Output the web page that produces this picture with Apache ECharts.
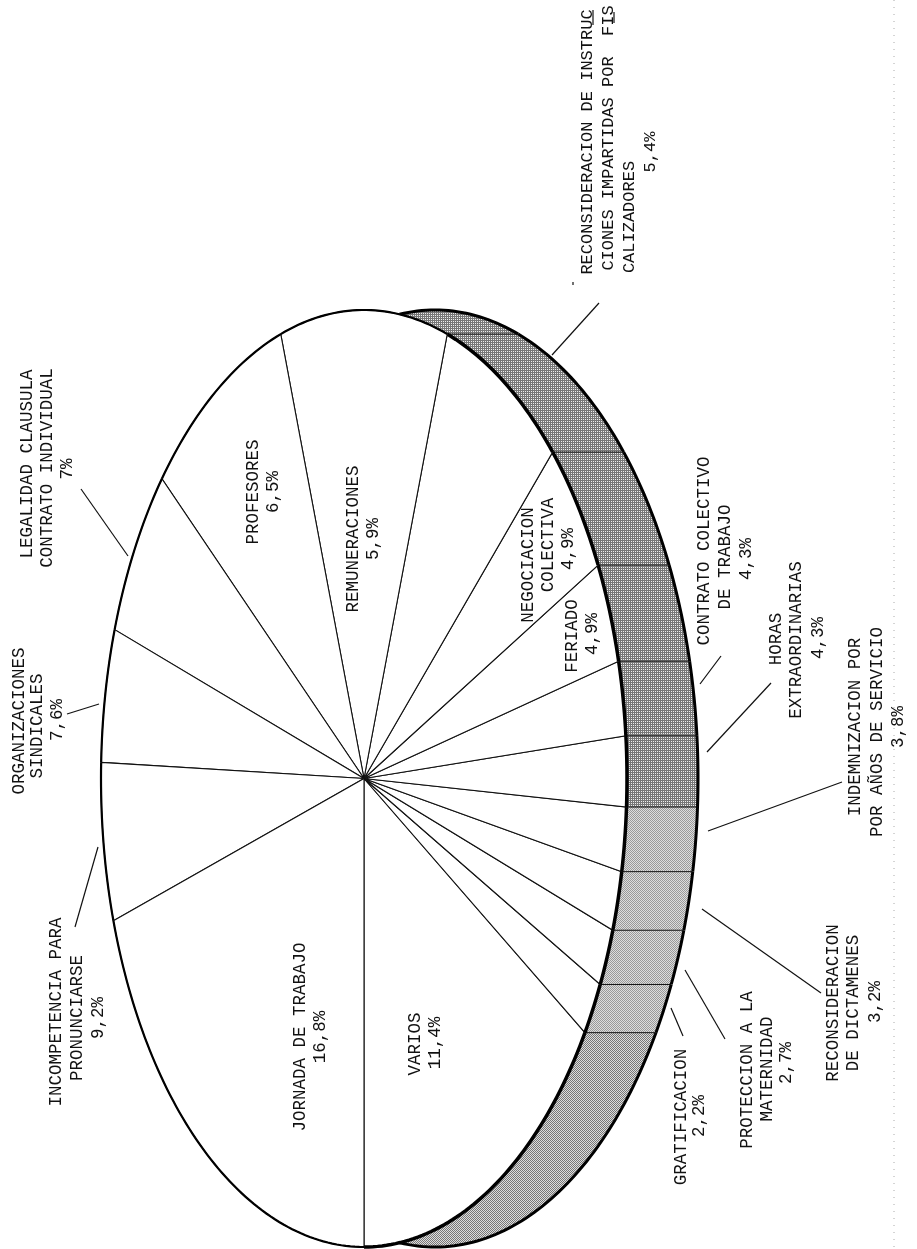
<!DOCTYPE html>
<html>

	<head>
		<meta charset="UTF-8">
		<title>dictamenes</title>
		<script src="https://cdn.jsdelivr.net/npm/echarts@6/dist/echarts.min.js"></script>
		<style>
			html, body {
				margin: 0;
				padding: 0;
				background: #fff;
			}
			#pie {
				width: 917px;
				height: 1249px;
			}
		</style>
	</head>

	<body>
		<div id="pie"></div>

		<script>
			// slices, counter-clockwise on screen, starting from straight down
			var categoryLines = [
				['VARIOS'],
				['GRATIFICACION'],
				['PROTECCION A LA', 'MATERNIDAD'],
				['RECONSIDERACION', 'DE DICTAMENES'],
				['INDEMNIZACION POR', 'POR AÑOS DE SERVICIO'],
				['HORAS', 'EXTRAORDINARIAS'],
				['CONTRATO COLECTIVO', 'DE TRABAJO'],
				['FERIADO'],
				['NEGOCIACION', 'COLECTIVA'],
				['RECONSIDERACION DE INSTRUC', 'CIONES IMPARTIDAS POR  FIS', 'CALIZADORES'],
				['REMUNERACIONES'],
				['PROFESORES'],
				['LEGALIDAD CLAUSULA', 'CONTRATO INDIVIDUAL'],
				['ORGANIZACIONES', 'SINDICALES'],
				['INCOMPETENCIA PARA', 'PRONUNCIARSE'],
				['JORNADA DE TRABAJO']
			];
			var values = [11.4, 2.2, 2.7, 3.2, 3.8, 4.3, 4.3, 4.9, 4.9, 5.4, 5.9, 6.5, 7, 7.6, 9.2, 16.8];

			// where each text line sits (name lines, then the percent)
			var labelSpots = [
				[[415, 1044], [435, 1043]],
				[[681, 1117], [699, 1116]],
				[[747, 1070], [767, 1069], [786, 1063]],
				[[833, 1003], [853, 1003], [875, 1002]],
				[[855, 727], [877, 732], [898, 727]],
				[[776, 639], [796, 640], [818, 638]],
				[[704, 551], [725, 557], [746, 559]],
				[[572, 636], [592, 634]],
				[[528, 565], [548, 545], [568, 549]],
				[[587, 142], [608, 138], [629, 217], [650, 152]],
				[[353, 539], [373, 539]],
				[[253, 492], [273, 492]],
				[[27, 464], [47, 468], [67, 469]],
				[[19, 721], [37, 726], [57, 720]],
				[[56, 1012], [77, 1018], [98, 1018]],
				[[300, 1037], [320, 1037]]
			];
			var leaders = [
				[81, 489, 128, 556],
				[67, 714, 99, 704],
				[98, 847, 75, 927],
				[599, 303, 552, 355],
				[721, 656, 700, 684],
				[771, 683, 707, 752],
				[842, 782, 708, 831],
				[702, 909, 821, 993],
				[685, 970, 725, 1039],
				[671, 1008, 683, 1036],
				[593, 10, 593, 25],
				[614, 12, 614, 23],
				[573, 282, 573, 285]
			];
			var bandTones = ['mid', 'light', 'light', 'light', 'light', 'dark', 'dark', 'dark', 'dark', 'dark', 'dark', 'dark', 'dark', 'dark', 'dark', 'dark'];

			var total = 0;
			for(var i = 0; i < values.length; i++) total += values[i];

			var rows = [];
			var cum = 0;
			for(var i = 0; i < values.length; i++) {
				rows.push([cum, values[i]]);
				cum += values[i];
			}

			// side of the disc, in axis units (the ellipse is the unit circle on the axes)
			var depth = 0.27;
			var tMin = Math.asin(depth / 2) * 180 / Math.PI;
			var tMax = 180 - tMin;

			function makePattern(size, dots, ink, bg) {
				var c = document.createElement('canvas');
				c.width = size;
				c.height = size;
				var g = c.getContext('2d');
				g.fillStyle = bg;
				g.fillRect(0, 0, size, size);
				g.fillStyle = ink;
				for(var i = 0; i < dots.length; i++) g.fillRect(dots[i][0], dots[i][1], 1, 1);
				return { image: c, repeat: 'repeat' };
			}
			var patterns = {
				dark: makePattern(2, [[0, 0], [1, 0], [0, 1]], '#777', '#eee'),
				mid: makePattern(2, [[0, 0], [1, 1]], '#777', '#ddd'),
				light: makePattern(2, [[0, 0], [1, 1]], '#999', '#ddd')
			};

			// wedges keep their true angle at the hub, only the rim is squashed
			function rimParam(share, size) {
				var th = share / total * 2 * Math.PI;
				var t = Math.atan2(Math.sin(th) / size[0], Math.cos(th) / size[1]) * 180 / Math.PI;
				if(t <= 0 && th > 0) t += 360;
				return t;
			}

			function rimPoint(api, t, shift) {
				var r = t * Math.PI / 180;
				return api.coord([Math.sin(r) + shift, -Math.cos(r)]);
			}

			function arc(api, from, to, shift) {
				var pts = [];
				var n = Math.max(2, Math.ceil(Math.abs(to - from)));
				for(var i = 0; i <= n; i++) pts.push(rimPoint(api, from + (to - from) * i / n, shift));
				return pts;
			}

			function renderWedge(params, api) {
				var size = api.size([1, 1]);
				var t1 = rimParam(api.value(0), size);
				var t2 = rimParam(api.value(0) + api.value(1), size);
				var rim = arc(api, t1, t2, 0);
				var mid = (t1 + t2) / 2;
				return {
					type: 'group',
					children: [{
						type: 'polygon',
						shape: { points: [api.coord([0, 0])].concat(rim) },
						style: { fill: '#fff', stroke: '#111', lineWidth: 1.1 }
					}, {
						type: 'polyline',
						shape: { points: rim },
						style: { fill: null, stroke: '#000', lineWidth: mid < tMax ? 3.5 : 2.2 }
					}]
				};
			}

			function renderBand(params, api) {
				var size = api.size([1, 1]);
				var t1 = rimParam(api.value(0), size);
				var t2 = rimParam(api.value(0) + api.value(1), size);
				var a = Math.max(t1, tMin);
				var b = Math.min(t2, tMax);
				if(a >= b) return { type: 'group', children: [] };
				var outerA = t1 <= tMin ? -tMin : t1;
				var outerB = t2 >= tMax ? 180 + tMin : t2;
				var outer = arc(api, outerA, outerB, depth);
				var children = [{
					type: 'polygon',
					shape: { points: arc(api, a, b, 0).concat(outer.slice().reverse()) },
					style: { fill: patterns[bandTones[params.dataIndex]] }
				}, {
					type: 'polyline',
					shape: { points: outer },
					style: { fill: null, stroke: '#000', lineWidth: 3 }
				}];
				if(t1 > tMin) {
					children.push({
						type: 'line',
						shape: {
							x1: rimPoint(api, t1, 0)[0],
							y1: rimPoint(api, t1, 0)[1],
							x2: rimPoint(api, t1, depth)[0],
							y2: rimPoint(api, t1, depth)[1]
						},
						style: { stroke: '#111', lineWidth: 1 }
					});
				}
				return { type: 'group', children: children };
			}

			function textItem(text, spot, fontSize) {
				return {
					type: 'text',
					x: spot[0],
					y: spot[1],
					z: 100,
					rotation: Math.PI / 2,
					silent: true,
					style: {
						text: text,
						fontFamily: 'Liberation Mono',
						fontSize: fontSize,
						fill: '#111',
						textAlign: 'center',
						textVerticalAlign: 'middle'
					}
				};
			}

			var graphics = [];
			for(var i = 0; i < categoryLines.length; i++) {
				var lines = categoryLines[i].concat([String(values[i]).replace('.', ',') + '%']);
				for(var j = 0; j < lines.length; j++) {
					graphics.push(textItem(lines[j], labelSpots[i][j], i == 9 ? 17 : 17.5));
				}
			}
			for(var i = 0; i < leaders.length; i++) {
				graphics.push({
					type: 'line',
					z: 100,
					silent: true,
					shape: { x1: leaders[i][0], y1: leaders[i][1], x2: leaders[i][2], y2: leaders[i][3] },
					style: { stroke: '#111', lineWidth: 1.2 }
				});
			}
			// dotted edge left by the scan
			graphics.push({
				type: 'line',
				silent: true,
				shape: { x1: 894, y1: 0, x2: 894, y2: 1249 },
				style: { stroke: '#aaa', lineWidth: 1, lineDash: [1, 6] }
			});

			var myChart = echarts.init(document.getElementById('pie'));
			myChart.setOption({
				animation: false,
				backgroundColor: '#fff',
				grid: { left: 101, top: 310, width: 526, height: 937 },
				xAxis: { type: 'value', min: -1, max: 1, show: false },
				yAxis: { type: 'value', min: -1, max: 1, show: false },
				graphic: { elements: graphics },
				series: [{
					type: 'custom',
					name: 'canto',
					coordinateSystem: 'cartesian2d',
					silent: true,
					z: 1,
					clip: false,
					renderItem: renderBand,
					data: rows
				}, {
					type: 'custom',
					name: 'materias',
					coordinateSystem: 'cartesian2d',
					silent: true,
					z: 2,
					clip: false,
					renderItem: renderWedge,
					data: rows
				}]
			});
		</script>
	</body>

</html>
